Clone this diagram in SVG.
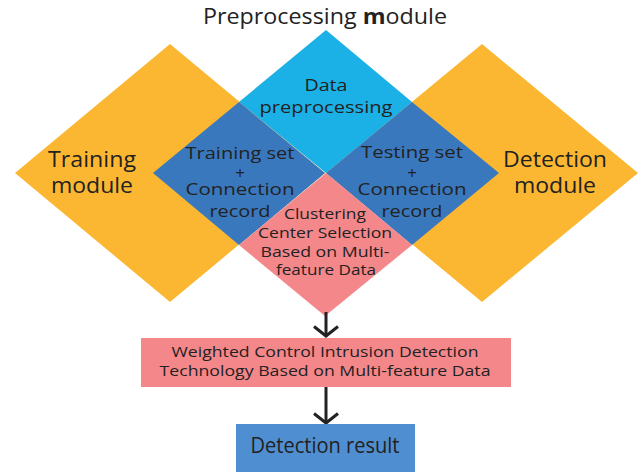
<svg xmlns="http://www.w3.org/2000/svg" width="640" height="474" viewBox="0 0 640 474">
<defs>
<style>
text{font-family:"Open Sans","Noto Sans","DejaVu Sans",sans-serif;fill:#222;text-anchor:middle}
.orange{fill:#FBB731}
.cyan{fill:#1BB1E6}
.blue{fill:#3A78BE}
.pink{fill:#F4878A}
.res{fill:#4F8ED0}
.big{font-size:21px}
.mid{font-size:17px}
.sm{font-size:15px}
.conn{stroke:#222;stroke-width:3;fill:none}
</style>
<marker id="chev" markerWidth="14" markerHeight="28" refX="11" refY="14" orient="auto" markerUnits="userSpaceOnUse" viewBox="0 0 14 28">
<path d="M1.5,2 L11,14 L1.5,26" fill="none" stroke="#222" stroke-width="3"/>
</marker>
</defs>
<rect width="640" height="474" fill="#fff"/>
<text x="325" y="24" style="font-size:21px" textLength="244" lengthAdjust="spacingAndGlyphs">Preprocessing <tspan font-weight="bold">m</tspan>odule</text>
<g id="training-module">
<polygon class="orange" points="170,44 325,173 170,302 15,173"/>
<text class="big" x="92" y="167" textLength="88" lengthAdjust="spacingAndGlyphs">Training</text>
<text class="big" x="92" y="193" textLength="82" lengthAdjust="spacingAndGlyphs">module</text>
</g>
<g id="detection-module">
<polygon class="orange" points="482,44 638,173 482,302 326,173"/>
<text class="big" x="555" y="167" textLength="104" lengthAdjust="spacingAndGlyphs">Detection</text>
<text class="big" x="555" y="193" textLength="82" lengthAdjust="spacingAndGlyphs">module</text>
</g>
<g id="data-preprocessing">
<polygon class="cyan" points="326,30 412,102 326,173 239,102"/>
<text class="mid" x="326" y="91" textLength="43" lengthAdjust="spacingAndGlyphs">Data</text>
<text class="mid" x="326" y="113" textLength="133" lengthAdjust="spacingAndGlyphs">preprocessing</text>
</g>
<g id="training-set">
<polygon class="blue" points="239,102 325,173 239,245 153,173"/>
<text class="mid" x="240" y="159" textLength="109" lengthAdjust="spacingAndGlyphs">Training set</text>
<text class="mid" x="240" y="179">+</text>
<text class="mid" x="240" y="195" textLength="109" lengthAdjust="spacingAndGlyphs">Connection</text>
<text class="mid" x="240" y="217" textLength="61" lengthAdjust="spacingAndGlyphs">record</text>
</g>
<g id="testing-set">
<polygon class="blue" points="412,102 499,173 412,245 326,173"/>
<text class="mid" x="412" y="158" textLength="102" lengthAdjust="spacingAndGlyphs">Testing set</text>
<text class="mid" x="412" y="179">+</text>
<text class="mid" x="412" y="195" textLength="109" lengthAdjust="spacingAndGlyphs">Connection</text>
<text class="mid" x="412" y="217" textLength="61" lengthAdjust="spacingAndGlyphs">record</text>
</g>
<g id="clustering">
<polygon class="pink" points="326,173 412,245 325,316 239,245"/>
<text class="sm" x="325" y="219" textLength="82" lengthAdjust="spacingAndGlyphs">Clustering</text>
<text class="sm" x="325" y="238" textLength="134" lengthAdjust="spacingAndGlyphs">Center Selection</text>
<text class="sm" x="325" y="257" textLength="129" lengthAdjust="spacingAndGlyphs">Based on Multi-</text>
<text class="sm" x="326" y="275" textLength="100" lengthAdjust="spacingAndGlyphs">feature Data</text>
</g>
<g id="connectors">
<line class="conn" x1="326" y1="312" x2="326" y2="336" marker-end="url(#chev)"/>
<line class="conn" x1="326" y1="387" x2="326" y2="423" marker-end="url(#chev)"/>
</g>
<g id="weighted-control">
<rect class="pink" x="141" y="338" width="370" height="49"/>
<text class="sm" x="325" y="357" textLength="307" lengthAdjust="spacingAndGlyphs">Weighted Control Intrusion Detection</text>
<text class="sm" x="325" y="376" textLength="331" lengthAdjust="spacingAndGlyphs">Technology Based on Multi-feature Data</text>
</g>
<g id="detection-result">
<rect class="res" x="236" y="424" width="179" height="48"/>
<text class="big" x="325" y="453" textLength="149" lengthAdjust="spacingAndGlyphs">Detection result</text>
</g>
</svg>
